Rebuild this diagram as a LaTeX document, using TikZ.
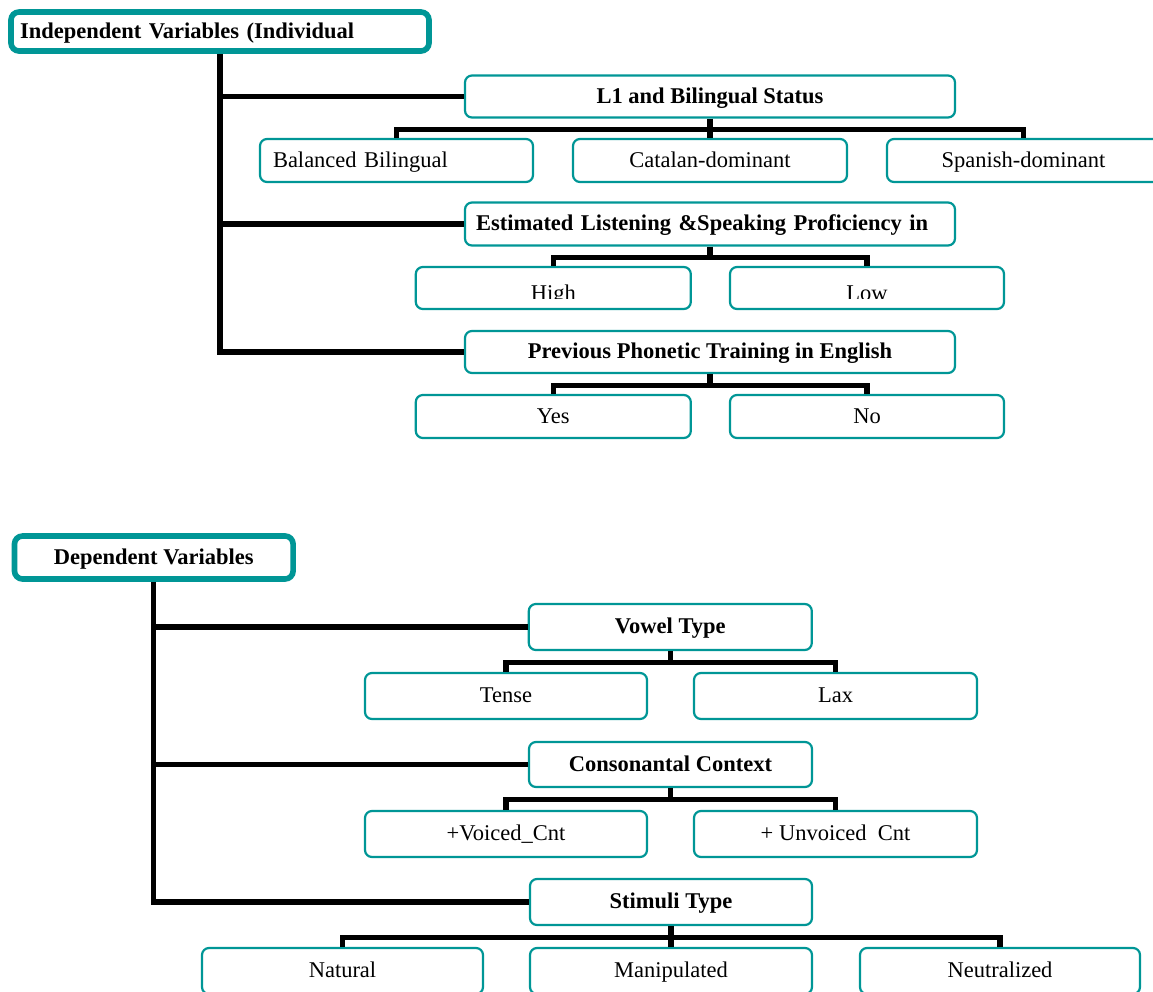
\documentclass[tikz,border=0pt]{standalone}
\usepackage{fontspec}
\setmainfont{Liberation Serif}
\definecolor{tealb}{RGB}{0,150,150}
\tikzset{
  txt/.style={inner sep=0pt, text height=0.66em, text depth=0pt, font={\fontsize{11.25}{13.5}\selectfont}},
  btxt/.style={txt, font={\fontsize{11.25}{13.5}\selectfont\bfseries}},
  box/.style={txt, draw=tealb, line width=1.1pt, rounded corners=3.5pt, fill=white},
  hbox/.style={box, font={\fontsize{11.25}{13.5}\selectfont\bfseries}},
  rootbox/.style={btxt, draw=tealb, line width=2.8pt, rounded corners=4pt, fill=white},
  link/.style={line width=2.6pt, draw=black}
}
\begin{document}
\begin{tikzpicture}[x=0.5pt, y=-0.5pt]
\useasboundingbox (0,0) rectangle (1153,992);
% ---------- Independent variables ----------
\node[rootbox, text width=200pt, align=left, inner xsep=4.5pt, minimum height=19.5pt] (root1) at (220,31.5) {Independent Variables (Individual};
\node[hbox, minimum width=245pt, minimum height=21pt] (l1) at (710,96.5) {L1 and Bilingual Status};
\node[box, text width=123.5pt, align=left, inner xsep=6.5pt, minimum height=21.5pt] (bal) at (396.5,160.5) {Balanced Bilingual};
\node[box, minimum width=137pt, minimum height=21.5pt] (cat) at (710,160.5) {Catalan-dominant};
\node[box, minimum width=136.5pt, minimum height=21.5pt] (sp) at (1023.5,160.5) {Spanish-dominant};
\node[hbox, text width=234pt, align=left, inner xsep=5.5pt, minimum height=21.5pt] (est) at (710,224) {Estimated Listening \&Speaking Proficiency in};
\node[box, minimum width=137.5pt, minimum height=21pt] (hi) at (553.3,288) {};
\node[box, minimum width=137pt, minimum height=21pt] (lo) at (867,288) {};
\begin{scope}
  \clip (400,270) rectangle (1010,298);
  \node[txt] (hitext) at (553.3,293.5) {High};
  \node[txt] (lotext) at (867,293.5) {Low};
\end{scope}
\node[hbox, minimum width=245pt, minimum height=21pt] (prev) at (710,352) {Previous Phonetic Training in English};
\node[box, minimum width=137.5pt, minimum height=21.5pt] (yes) at (553.3,416.5) {Yes};
\node[box, minimum width=137pt, minimum height=21.5pt] (no) at (867,416.5) {No};
% connectors
\draw[link] (root1.south) |- (prev.west);
\draw[link] (root1.south |- l1.west) -- (l1.west);
\draw[link] (root1.south |- est.west) -- (est.west);
\draw[link] (l1.south) -- ++(0,10.5) coordinate (b1);
\draw[link] (bal.north) |- (b1) -| (sp.north);
\draw[link] (b1) -- (cat.north);
\draw[link] (est.south) -- ++(0,11) coordinate (b2);
\draw[link] (hi.north) |- (b2) -| (lo.north);
\draw[link] (prev.south) -- ++(0,11) coordinate (b3);
\draw[link] (yes.north) |- (b3) -| (no.north);
% ---------- Dependent variables ----------
\node[rootbox, minimum width=139.3pt, minimum height=21.5pt] (root2) at (153.8,557.5) {Dependent Variables};
\node[hbox, minimum width=141.5pt, minimum height=23pt] (vow) at (670.3,627) {Vowel Type};
\node[box, minimum width=141pt, minimum height=23pt] (tense) at (506,696) {Tense};
\node[box, minimum width=141.5pt, minimum height=23pt] (lax) at (835.5,696) {Lax};
\node[hbox, minimum width=141.5pt, minimum height=22.5pt] (cons) at (670.5,764.5) {Consonantal Context};
\node[box, minimum width=141pt, minimum height=23pt] (voi) at (506,834) {+Voiced\_Cnt};
\node[box, minimum width=141.5pt, minimum height=23pt] (unv) at (835.5,834) {+ Unvoiced\ \ Cnt};
\node[hbox, minimum width=141pt, minimum height=23pt] (stim) at (671,902) {Stimuli Type};
\node[box, minimum width=140.5pt, minimum height=23pt] (nat) at (342.5,971) {Natural};
\node[box, minimum width=141pt, minimum height=23pt] (man) at (671,971) {Manipulated};
\node[box, minimum width=140pt, minimum height=23pt] (neu) at (1000,971) {Neutralized};
% connectors
\draw[link] (root2.south) |- (stim.west);
\draw[link] (root2.south |- vow.west) -- (vow.west);
\draw[link] (root2.south |- cons.west) -- (cons.west);
\draw[link] (vow.south) -- ++(0,11) coordinate (b4);
\draw[link] (tense.north) |- (b4) -| (lax.north);
\draw[link] (cons.south) -- ++(0,11) coordinate (b5);
\draw[link] (voi.north) |- (b5) -| (unv.north);
\draw[link] (stim.south) -- ++(0,11.5) coordinate (b6);
\draw[link] (nat.north) |- (b6) -| (neu.north);
\draw[link] (b6) -- (man.north);
\end{tikzpicture}
\end{document}
